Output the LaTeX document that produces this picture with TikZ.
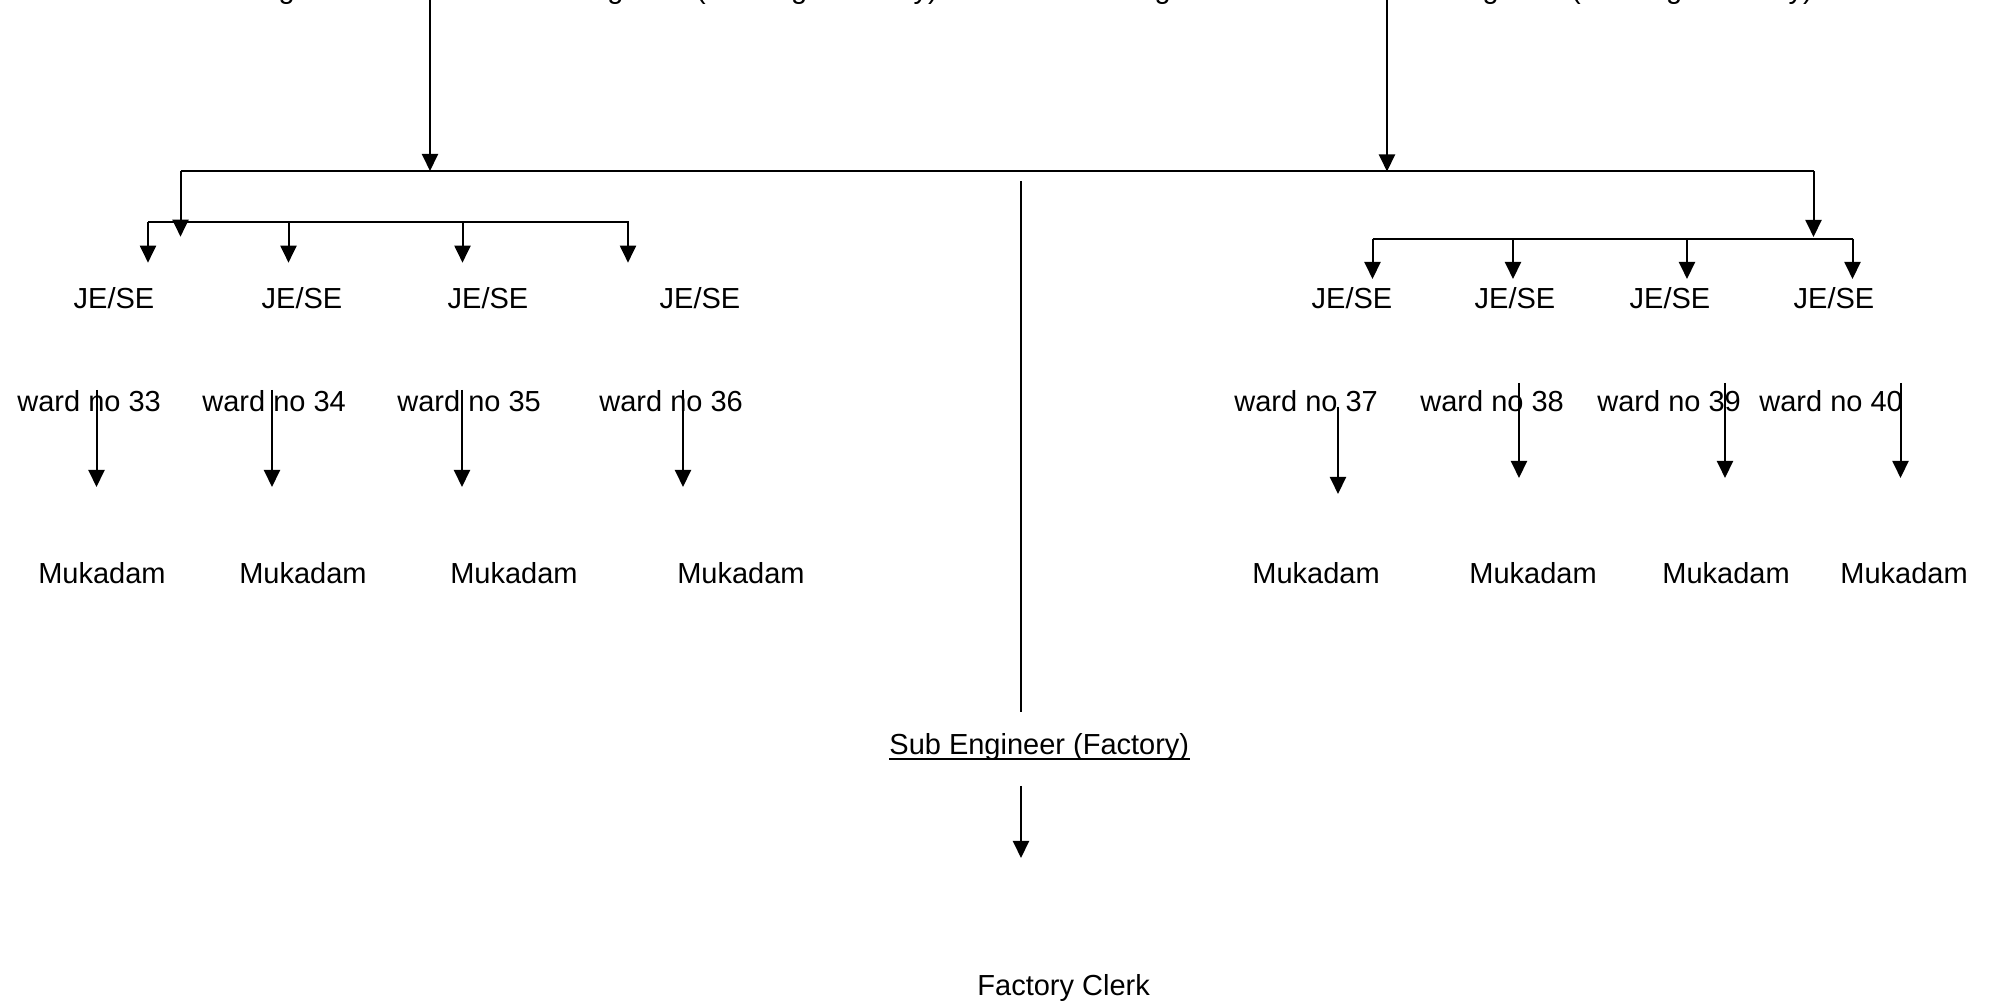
\documentclass[tikz,border=0pt]{standalone}
\usepackage{fontspec}
\setmainfont{Liberation Sans}
\usetikzlibrary{arrows.meta}
\begin{document}
\begin{tikzpicture}[x=0.5pt,y=-0.5pt,
  lbl/.style={inner sep=0pt, font=\fontsize{14.5}{17}\selectfont},
  conn/.style={line width=1pt},
  arr/.style={conn,-{Triangle[length=8.5pt,width=8pt]}}]
\useasboundingbox (0,0) rectangle (1993,1004);
\clip (0,0) rectangle (1993,1004);

% top (cut off) texts
\node[lbl,anchor=base west] (tA) at (117,-1) {Assistant Engineer};
\node[lbl,anchor=base west] (tB) at (512,-1) {Sub Engineer (Drainage  Factory)};
\node[lbl,anchor=base west] (tC) at (993,-1) {Assistant Engineer};
\node[lbl,anchor=base west] (tD) at (1387,-1) {Sub Engineer (Drainage  Factory)};

% top arrows and main bar
\coordinate (t1) at (430,-5); \coordinate (t1e) at (430,171);
\coordinate (t2) at (1387,-5); \coordinate (t2e) at (1387,171.5);
\draw[arr] (t1) -- (t1e);
\draw[arr] (t2) -- (t2e);
\coordinate (mL) at (180.5,171.5); \coordinate (mR) at (1813.5,171.5);
\draw[conn] (mL) -- (mR);

% left branch
\coordinate (lB) at (180.5,236.7);
\draw[arr] (mL) -- (lB);
\coordinate (lsL) at (148,222); \coordinate (lsR) at (629,222);
\draw[conn] (lsL) -- (lsR);
\foreach \x [count=\i] in {148,288.5,462.5,628} {
  \coordinate (la\i) at (\x,222); \coordinate (lae\i) at (\x,262.7);
  \draw[arr] (la\i) -- (lae\i);
}

% right branch
\coordinate (rB) at (1813.5,237);
\draw[arr] (mR) -- (rB);
\coordinate (rsL) at (1372.5,238.7); \coordinate (rsR) at (1852.5,238.7);
\draw[conn] (rsL) -- (rsR);
\foreach \x [count=\i] in {1372.5,1513,1687,1852.5} {
  \coordinate (ra\i) at (\x,238.7); \coordinate (rae\i) at (\x,279);
  \draw[arr] (ra\i) -- (rae\i);
}

% JE/SE labels
\foreach \x [count=\i] in {114,302,488,700,1352,1515,1670,1834} {
  \node[lbl,anchor=base] (je\i) at (\x,309) {JE/SE};
}

% ward labels
\foreach \x/\n in {17/33,202/34,397/35,599/36,1234/37,1420/38,1597/39,1759/40} {
  \node[lbl,anchor=base west] (w\n) at (\x,412) {ward no \n};
}

% ward arrows
\foreach \x/\ya/\yb [count=\i] in {96.5/390/487,272/390/487,462/390/487,683/390/487,
    1338/407/494,1519/383/478,1725/383/478,1900.5/383/478} {
  \coordinate (wa\i) at (\x,\ya); \coordinate (wae\i) at (\x,\yb);
  \draw[arr] (wa\i) -- (wae\i);
}

% Mukadam labels
\foreach \x [count=\i] in {102,303,514,741,1316,1533,1726,1904} {
  \node[lbl,anchor=base] (mk\i) at (\x,584) {Mukadam};
}

% middle line and factory
\coordinate (mid1) at (1021,181); \coordinate (mid2) at (1021,712);
\draw[conn] (mid1) -- (mid2);
\node[lbl,anchor=base west] (se) at (889,755) {Sub Engineer (Factory)};
\draw[line width=0.7pt] ([yshift=-2pt]se.base west) -- ([yshift=-2pt]se.base east);
\coordinate (sa1) at (1021,786); \coordinate (sa2) at (1021,858);
\draw[arr] (sa1) -- (sa2);
\node[lbl,anchor=base west] (fc) at (977,995) {Factory Clerk};
\end{tikzpicture}
\end{document}
